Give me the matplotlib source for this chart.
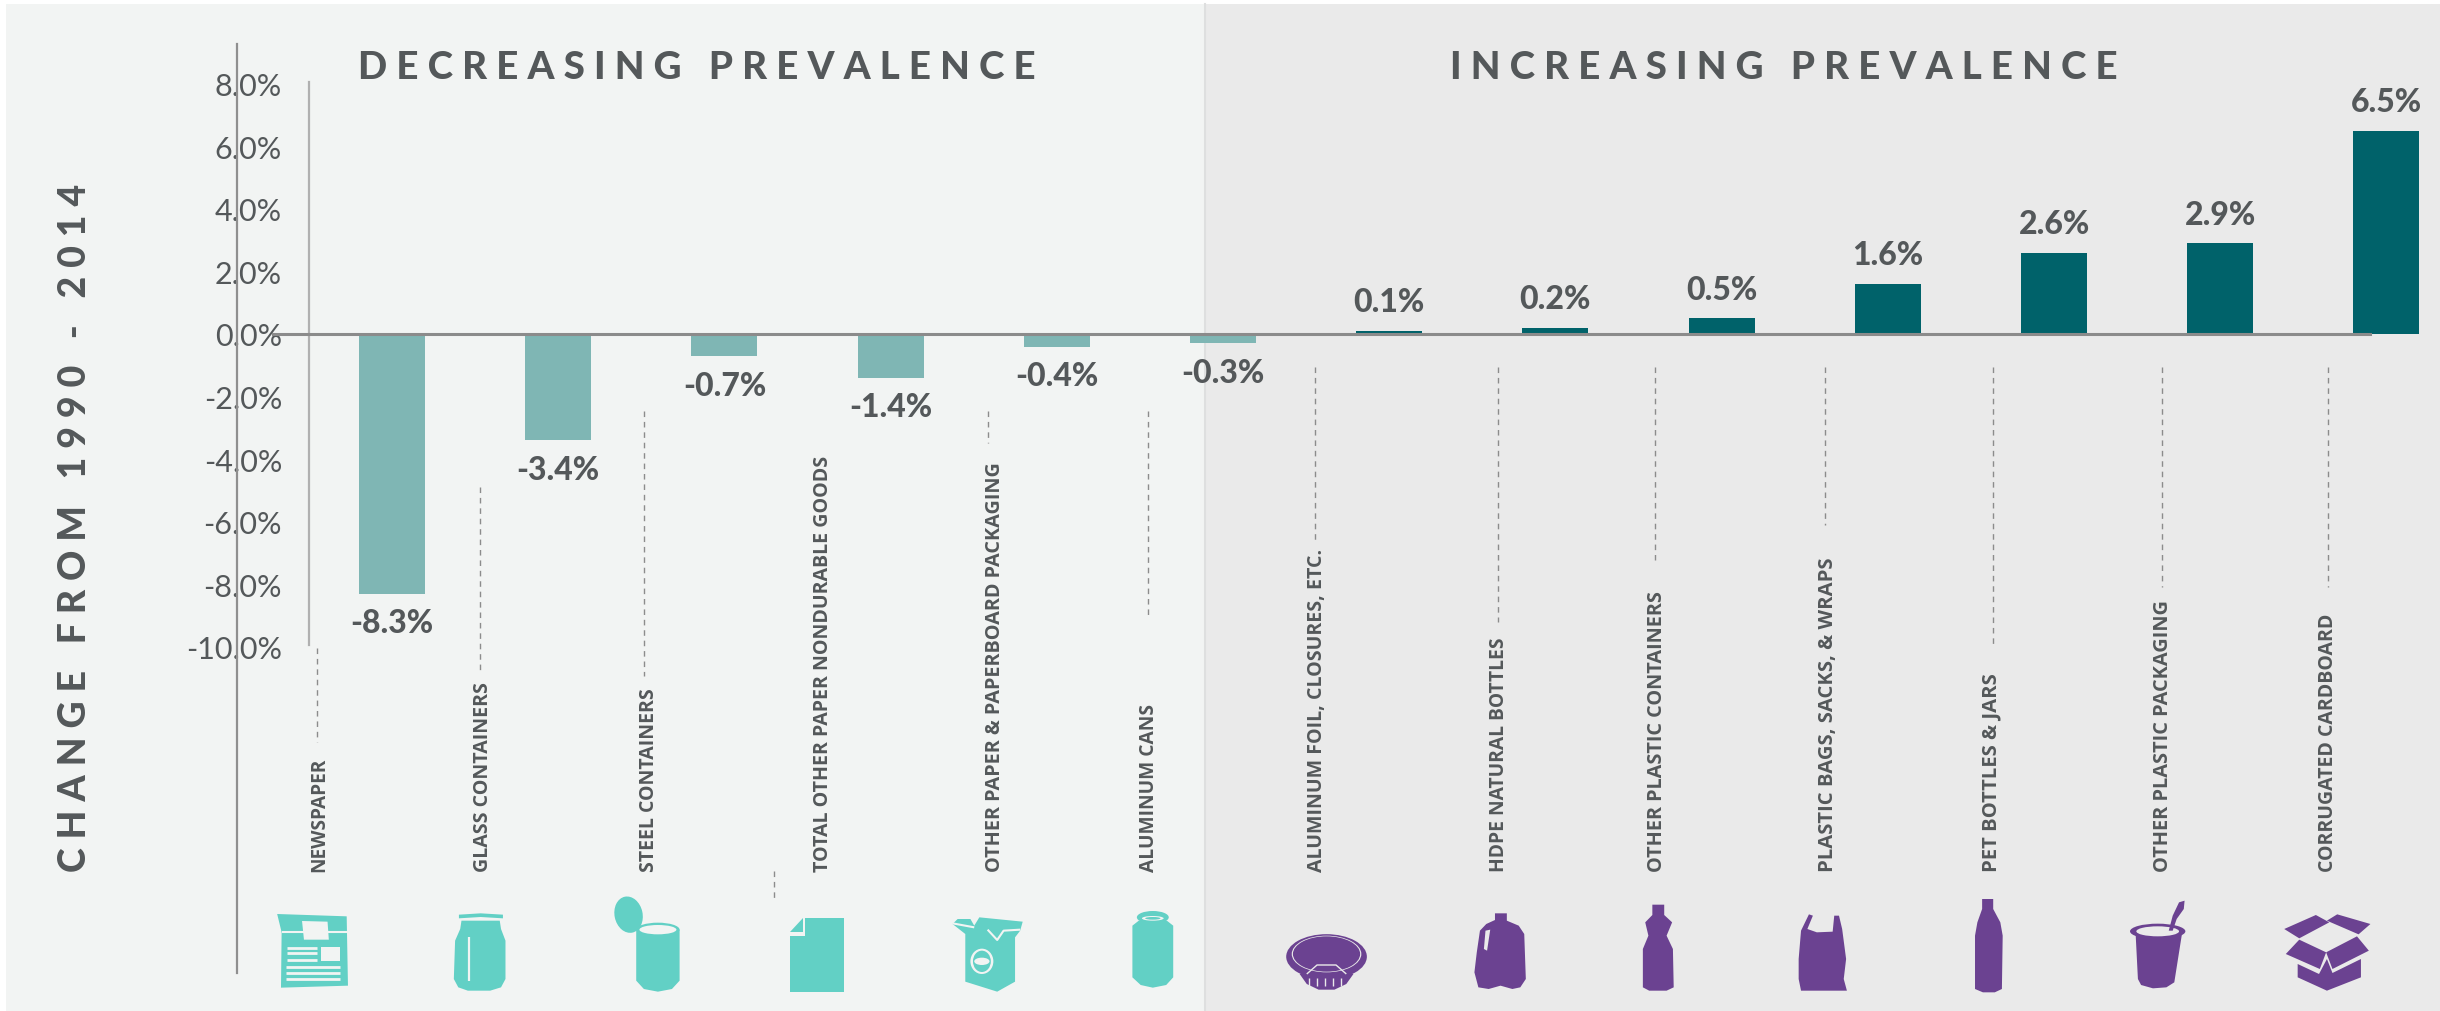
import matplotlib
matplotlib.use('Agg')
import matplotlib.pyplot as plt
from matplotlib.patches import Ellipse, Rectangle

# data
categories = ['NEWSPAPER', 'GLASS CONTAINERS', 'STEEL CONTAINERS',
              'TOTAL OTHER PAPER NONDURABLE GOODS', 'OTHER PAPER & PAPERBOARD PACKAGING',
              'ALUMINUM CANS', 'ALUMINUM FOIL, CLOSURES, ETC.', 'HDPE NATURAL BOTTLES',
              'OTHER PLASTIC CONTAINERS', 'PLASTIC BAGS, SACKS, & WRAPS', 'PET BOTTLES & JARS',
              'OTHER PLASTIC PACKAGING', 'CORRUGATED CARDBOARD']
changes = [-8.3, -3.4, -0.7, -1.4, -0.4, -0.3, 0.1, 0.2, 0.5, 1.6, 2.6, 2.9, 6.5]
yticks = [8, 6, 4, 2, 0, -2, -4, -6, -8, -10]
label_x = [319, 483, 649, 823, 995, 1149, 1317, 1499, 1657, 1828, 1991, 2163, 2328]
label_top = [758, 682, 688, 454, 461, 704, 549, 637, 591, 558, 673, 599, 613]
leaders = [(317, 649, 743), (480, 488, 672), (644, 412, 677), (774, 872, 899),
           (988, 412, 444), (1148, 412, 619), (1315, 368, 542), (1498, 368, 623),
           (1655, 368, 561), (1825, 368, 526), (1993, 368, 648), (2162, 368, 588),
           (2328, 368, 588)]

TEXT = '#54585A'
LIGHT_BAR = '#7FB6B4'
DARK_BAR = '#00626A'
TEAL = '#62D0C5'
PURPLE = '#6B4291'
PANEL1 = '#F2F4F3'
PANEL2 = '#EAEAEA'

W, H = 2440, 1012
plt.rcParams['font.family'] = ['Lato', 'DejaVu Sans']
fig = plt.figure(figsize=(W / 100, H / 100), dpi=100, facecolor='white')

# overlay in image pixels, for panels, leaders and icons
ov = fig.add_axes([0, 0, 1, 1])
ov.set_xlim(0, W)
ov.set_ylim(H, 0)
ov.axis('off')
ov.add_patch(Rectangle((6, 5), 1199, H, color=PANEL1, lw=0))
ov.add_patch(Rectangle((1205, 5), W - 1205, H, color=PANEL2, lw=0))
ov.plot([1205, 1205], [5, H], color='#DEDFDF', lw=1.5)
ov.plot([309, 309], [83, 646], color='#B0B0B0', lw=1.6)

for x, y0, y1 in leaders:
    ov.plot([x, x], [y0, y1], color='#8C8C8C', lw=1, dashes=(4, 3.5))

# chart axes, 0 sits at y=335 and one percent is 31.3 px
left, top, bottom = 237, 45, 974
ax = fig.add_axes([left / W, 1 - bottom / H, 1 - left / W, (bottom - top) / H])
ax.patch.set_alpha(0)
ax.set_ylim(-(bottom - 335) / 31.3, (335 - top) / 31.3)
ax.set_xlim((left - 392) / 166.2, (W - 392) / 166.2)

xs = list(range(len(changes)))
colors = [LIGHT_BAR if v < 0 else DARK_BAR for v in changes]
ax.bar(xs, changes, width=0.397, color=colors, lw=0)
ax.axhline(0, xmin=(273 - left) / (W - left), xmax=(2370 - left) / (W - left), color='#8B8B8B', lw=2.2)

for x, v in zip(xs, changes):
    ax.annotate(f'{v:.1f}%', (x, v), xytext=(0, 21 if v > 0 else -21), textcoords='offset points',
                ha='center', va='center', fontsize=23, fontweight='black', color=TEXT)

for s in ['top', 'right', 'bottom']:
    ax.spines[s].set_visible(False)
ax.spines['left'].set_color('#8F8F8F')
ax.spines['left'].set_linewidth(1.6)
ax.set_xticks([])
ax.set_yticks(yticks)
ax.set_yticklabels([f'{v:.1f}%' for v in yticks], fontsize=22, color=TEXT)
ax.tick_params(axis='y', length=0, pad=-32.4)

# titles
ov.text(358, 68, 'D E C R E A S I N G   P R E V A L E N C E', fontsize=27.7, fontweight='black',
        color=TEXT, va='center', ha='left')
ov.text(1450, 68, 'I N C R E A S I N G   P R E V A L E N C E', fontsize=27.7, fontweight='black',
        color=TEXT, va='center', ha='left')
ov.text(75, 872, 'C H A N G E   F R O M   1 9 9 0   -   2 0 1 4', rotation=90, fontsize=27,
        fontweight='black', color=TEXT, va='bottom', ha='center')

# the source squeezes each label to its own length, so fit the size to it
fig.canvas.draw()
renderer = fig.canvas.get_renderer()
for x, name, y_top in zip(label_x, categories, label_top):
    t = ov.text(x, 872, name, rotation=90, fontsize=17, color=TEXT, va='bottom', ha='center',
                family=['Liberation Sans Narrow', 'Open Sans'], fontweight='bold')
    t.set_fontsize(17 * (872 - y_top) / t.get_window_extent(renderer).height)


# icon outlines are read in zoomed crops, these turn them into image pixels
def z2(pts):
    return [(200 + x / 1.568, 660 + y / 3) for x, y in pts]


def z3(pts):
    return [(1200 + x / 1.2645, 660 + y / 3) for x, y in pts]


def poly(conv, pts, color, z=3):
    p = conv(pts)
    ov.fill([a for a, b in p], [b for a, b in p], color=color, lw=0, zorder=z)


def line(conv, pts, color, lw=1.5):
    p = conv(pts)
    ov.plot([a for a, b in p], [b for a, b in p], color=color, lw=lw, zorder=4, solid_capstyle='butt')


def oval(conv, cx, cy, w, h, color, angle=0, z=3):
    sx = 1.568 if conv is z2 else 1.2645
    c = conv([(cx, cy)])[0]
    ov.add_patch(Ellipse(c, w / sx, h / 3, angle=angle, color=color, lw=0, zorder=z))


# newspaper
poly(z2, [(121, 765), (230, 772), (232, 980), (127, 986), (128, 820)], TEAL)
line(z2, [(128, 819), (232, 819)], PANEL1)
poly(z2, [(160, 786), (200, 788), (202, 842), (163, 842)], PANEL1, 4)
poly(z2, [(190, 865), (220, 865), (220, 905), (190, 905)], PANEL1, 4)
for y in [866, 883, 902]:
    line(z2, [(136, y), (183, y)], PANEL1, 2)
for y in [925, 942, 961]:
    line(z2, [(135, y), (220, y)], PANEL1, 2)

# glass jar
poly(z2, [(406, 767), (440, 763), (475, 767), (475, 778), (440, 774), (406, 778)], TEAL)
poly(z2, [(410, 785), (470, 785), (472, 810), (479, 845), (479, 960), (472, 985), (455, 995), (420, 995),
          (405, 985), (398, 960), (400, 845), (408, 810)], TEAL)
line(z2, [(422, 835), (422, 965)], PANEL1, 1.6)

# steel can
poly(z2, [(684, 812), (752, 812), (752, 965), (740, 990), (718, 998), (696, 990), (684, 965)], TEAL)
oval(z2, 718, 812, 68, 42, TEAL)
oval(z2, 718, 812, 58, 28, PANEL1, z=4)
oval(z2, 672, 767, 44, 110, TEAL, angle=-12)

# paper sheet
poly(z2, [(948, 776), (1010, 776), (1010, 998), (925, 998), (925, 832), (948, 832)], TEAL)
poly(z2, [(945, 778), (945, 820), (925, 820)], TEAL)

# carton
poly(z2, [(1188, 780), (1208, 780), (1214, 800), (1222, 775), (1290, 788), (1286, 815), (1278, 835),
          (1278, 968), (1250, 998), (1200, 968), (1200, 825), (1180, 795)], TEAL)
line(z2, [(1180, 793), (1214, 805)], PANEL1)
line(z2, [(1235, 812), (1250, 843), (1260, 815), (1286, 812)], PANEL1)
oval(z2, 1226, 907, 36, 76, PANEL1, z=4)
oval(z2, 1226, 907, 28, 64, TEAL, z=4)
oval(z2, 1226, 907, 24, 22, PANEL1, z=5)

# aluminum can
poly(z2, [(1462, 800), (1472, 785), (1516, 785), (1526, 800), (1526, 955), (1515, 978), (1494, 986),
          (1475, 978), (1462, 955)], TEAL)
oval(z2, 1494, 775, 50, 38, TEAL)
oval(z2, 1494, 778, 34, 14, PANEL1, z=4)
oval(z2, 1494, 778, 24, 8, TEAL, z=5)

# strainer
poly(z3, [(126, 945), (194, 945), (185, 975), (170, 992), (150, 992), (135, 975)], PURPLE)
oval(z3, 160, 893, 102, 135, PURPLE)
oval(z3, 160, 885, 88, 110, PANEL2, z=4)
oval(z3, 160, 885, 85, 106, PURPLE, z=4)
line(z3, [(135, 945), (148, 918), (172, 918), (185, 945)], PANEL2, 1)
for x in [138, 148, 158, 168, 178]:
    line(z3, [(x, 958), (x, 982)], PANEL2, 1)

# milk jug
poly(z3, [(373, 763), (388, 763), (388, 785), (403, 800), (410, 825), (412, 960), (405, 985), (395, 990),
          (380, 980), (365, 990), (352, 985), (347, 940), (350, 880), (354, 815), (362, 795), (373, 783)], PURPLE)
poly(z3, [(361, 815), (367, 812), (363, 875), (359, 870)], PANEL2, 4)

# plastic bottle
poly(z3, [(572, 737), (587, 737), (587, 768), (597, 790), (590, 830), (598, 870), (599, 985), (590, 995),
          (568, 995), (560, 985), (560, 870), (567, 830), (563, 790), (572, 768)], PURPLE)

# plastic bag
poly(z3, [(770, 766), (775, 770), (768, 810), (780, 820), (800, 818), (802, 770), (808, 770), (812, 810),
          (817, 900), (814, 960), (818, 995), (760, 995), (757, 960), (757, 900), (760, 815)], PURPLE)

# pet bottle
poly(z3, [(989, 720), (1003, 720), (1003, 750), (1012, 790), (1015, 830), (1014, 990), (1005, 1000),
          (990, 1000), (980, 990), (980, 830), (983, 790), (989, 750)], PURPLE)

# yogurt cup
poly(z3, [(1183, 820), (1242, 820), (1232, 970), (1222, 985), (1205, 988), (1190, 978), (1186, 960)], PURPLE)
oval(z3, 1211, 817, 70, 46, PURPLE)
oval(z3, 1211, 817, 54, 30, PANEL2, z=4)
poly(z3, [(1225, 815), (1230, 770), (1238, 730), (1245, 725), (1244, 750), (1235, 780), (1230, 815)], PURPLE, 5)

# cardboard box
poly(z3, [(1411, 768), (1428, 790), (1390, 838), (1371, 810)], PURPLE)
poly(z3, [(1438, 766), (1480, 795), (1465, 826), (1425, 785)], PURPLE)
poly(z3, [(1390, 842), (1424, 880), (1463, 832), (1478, 875), (1432, 930), (1424, 880), (1416, 930),
          (1373, 885)], PURPLE)
poly(z3, [(1388, 915), (1415, 945), (1425, 900), (1432, 942), (1468, 900), (1468, 955), (1425, 995),
          (1388, 955)], PURPLE)

fig.savefig('out.png', dpi=100)
